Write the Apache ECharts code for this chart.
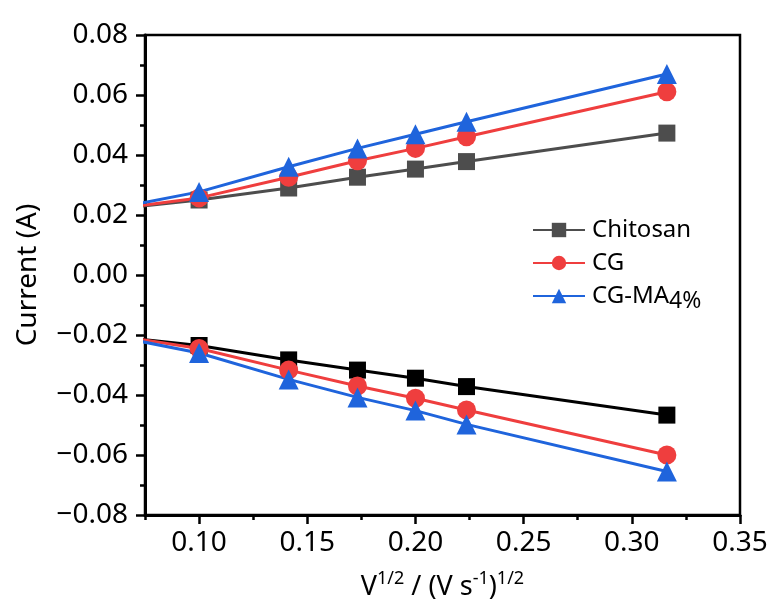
<!DOCTYPE html>
<html>
<head>
<meta charset="utf-8">
<title>Peak current vs square root of scan rate</title>
<script src="https://cdn.jsdelivr.net/npm/echarts@6/dist/echarts.min.js"></script>
<style>
  html, body { margin: 0; padding: 0; background: #ffffff; }
  #chart { width: 772px; height: 599px; }
</style>
</head>
<body>
<div id="chart"></div>
<script>
// Square root of scan rate, (V s^-1)^1/2; the first point lies just left of the visible range
const sqrtScanRate = [0.0707, 0.1, 0.1414, 0.1732, 0.2, 0.2236, 0.3162];

// Anodic peak currents (A)
const chitosanAnodic = [0.0227, 0.0250, 0.0290, 0.0326, 0.0353, 0.0378, 0.0473];
const cgAnodic       = [0.0229, 0.0257, 0.0326, 0.0381, 0.0422, 0.0461, 0.0611];
const cgmaAnodic     = [0.0236, 0.0277, 0.0361, 0.0422, 0.0469, 0.0511, 0.0670];

// Cathodic peak currents (A)
const chitosanCathodic = [-0.0212, -0.0235, -0.0283, -0.0317, -0.0344, -0.0372, -0.0467];
const cgCathodic       = [-0.0212, -0.0245, -0.0317, -0.0370, -0.0411, -0.0450, -0.0600];
const cgmaCathodic     = [-0.0218, -0.0260, -0.0348, -0.0408, -0.0452, -0.0498, -0.0655];

// Axis tick positions
const xMajorTicks = [0.10, 0.15, 0.20, 0.25, 0.30, 0.35];
const xMinorTicks = [0.075, 0.125, 0.175, 0.225, 0.275, 0.325];

const FONT = '"Noto Sans", "Open Sans", sans-serif';

function pairs(ys) {
  return sqrtScanRate.map((x, i) => [x, ys[i]]);
}

function fmtSigned(v, digits) {
  const s = Math.abs(v).toFixed(digits);
  return v < 0 ? '\u2212' + s : s;
}

function makeSeries(name, ys, color, symbol, size) {
  return {
    name: name,
    type: 'line',
    data: pairs(ys),
    clip: true,
    symbol: symbol,
    symbolSize: size,
    showAllSymbol: true,
    lineStyle: { color: color, width: 3 },
    itemStyle: { color: color, borderWidth: 0 },
    emphasis: { disabled: true },
    z: 3
  };
}

const chart = echarts.init(document.getElementById('chart'), null, { renderer: 'canvas' });

const option = {
  backgroundColor: '#ffffff',
  animation: false,
  grid: {
    left: 145, right: 32, top: 35, bottom: 84,
    outerBoundsMode: 'none',
    containLabel: false,
    show: true, borderColor: '#000', borderWidth: 2.5, backgroundColor: 'transparent'
  },
  legend: {
    orient: 'vertical',
    left: 527, top: 213,
    itemWidth: 52, itemHeight: 18, itemGap: 9,
    data: ['Chitosan', 'CG', 'CG-MA'],
    formatter: function (name) {
      return name === 'CG-MA' ? '{n|CG-MA}{sub|4%}' : '{n|' + name + '}';
    },
    textStyle: {
      color: '#000', fontFamily: FONT, fontSize: 24, padding: [0, 0, 0, 2],
      rich: {
        n: { fontSize: 24, fontFamily: FONT, color: '#000' },
        sub: { fontSize: 23, fontFamily: FONT, color: '#000', padding: [11, 0, 0, 0], verticalAlign: 'top' }
      }
    }
  },
  xAxis: [
    {
      type: 'value',
      min: 0.075, max: 0.35,
      position: 'bottom',
      name: '{b|V}{s|1/2}{b| / (V s}{s|-1}{b|)}{s|1/2}',
      nameLocation: 'middle',
      nameGap: 55,
      nameTextStyle: {
        fontFamily: FONT, color: '#000',
        rich: {
          b: { fontSize: 27, fontFamily: FONT, color: '#000', verticalAlign: 'bottom' },
          s: { fontSize: 18, fontFamily: FONT, color: '#000', verticalAlign: 'bottom', padding: [0, 0, 13, 0] }
        }
      },
      axisLine: { show: true, onZero: false, lineStyle: { color: '#000', width: 3 } },
      axisTick: { show: true, inside: false, length: 9, lineStyle: { color: '#000', width: 2.5 }, customValues: xMajorTicks },
      axisLabel: {
        customValues: xMajorTicks, margin: 14,
        fontFamily: FONT, fontSize: 28, color: '#000',
        formatter: v => v.toFixed(2)
      },
      splitLine: { show: false }
    },
    {
      type: 'value',
      min: 0.075, max: 0.35,
      position: 'bottom',
      axisLine: { show: false, onZero: false },
      axisTick: { show: true, inside: false, length: 5, lineStyle: { color: '#000', width: 2.5 }, customValues: xMinorTicks },
      axisLabel: { show: false, customValues: xMinorTicks },
      splitLine: { show: false }
    }
  ],
  yAxis: {
    type: 'value',
    min: -0.08, max: 0.08, interval: 0.02,
    name: 'Current (A)',
    nameLocation: 'middle',
    nameGap: 103,
    nameRotate: 90,
    nameTextStyle: { fontFamily: FONT, fontSize: 28, color: '#000' },
    axisLine: { show: true, onZero: false, lineStyle: { color: '#000', width: 3 } },
    axisTick: { show: true, inside: false, length: 9, lineStyle: { color: '#000', width: 2.5 } },
    minorTick: { show: true, splitNumber: 2, length: 5, lineStyle: { color: '#000', width: 2.5 } },
    axisLabel: {
      margin: 17, fontFamily: FONT, fontSize: 28, color: '#000',
      formatter: v => fmtSigned(v, 2)
    },
    splitLine: { show: false }
  },
  series: [
    makeSeries('Chitosan', chitosanAnodic, '#4d4d4d', 'rect', 17),
    makeSeries('CG', cgAnodic, '#ef3e3e', 'circle', 19),
    makeSeries('CG-MA', cgmaAnodic, '#1f64dc', 'triangle', 20),
    makeSeries('Chitosan', chitosanCathodic, '#000000', 'rect', 17),
    makeSeries('CG', cgCathodic, '#ef3e3e', 'circle', 19),
    makeSeries('CG-MA', cgmaCathodic, '#1f64dc', 'triangle', 20)
  ]
};

chart.setOption(option);
</script>
</body>
</html>
